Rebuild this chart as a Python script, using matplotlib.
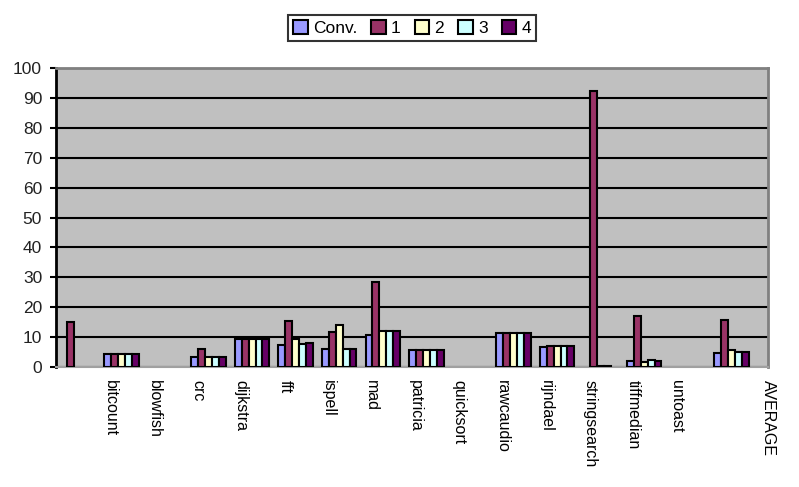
import numpy as np
import matplotlib
matplotlib.use("Agg")
import matplotlib.pyplot as plt

# benchmark names (first group has no label in the original)
benchmarks = ["", "bitcount", "blowfish", "crc", "dijkstra", "fft", "ispell", "mad",
              "patricia", "quicksort", "rawcaudio", "rijndael", "stringsearch",
              "tiffmedian", "untoast", "AVERAGE"]
series_names = ["Conv.", "1", "2", "3", "4"]

conv = [0, 4.3, 0, 3.3, 9.5, 7.4, 6.1, 10.7, 5.8, 0, 11.5, 6.7, 0, 2.0, 0, 4.8]
s1 = [15.0, 4.3, 0, 6.1, 9.5, 15.4, 11.8, 28.4, 5.8, 0, 11.5, 7.0, 92.3, 17.1, 0, 15.7]
s2 = [0, 4.3, 0, 3.3, 9.5, 9.4, 14.0, 12.0, 5.8, 0, 11.5, 7.0, 0.4, 1.8, 0, 5.7]
s3 = [0, 4.3, 0, 3.3, 9.5, 7.7, 6.1, 12.0, 5.8, 0, 11.5, 7.0, 0.4, 2.3, 0, 5.1]
s4 = [0, 4.3, 0, 3.3, 9.5, 8.0, 6.1, 12.0, 5.8, 0, 11.5, 7.0, 0, 2.0, 0, 5.1]

colors = ["#9999FF", "#993366", "#FFFFCC", "#CCFFFF", "#660066"]

plt.rcParams["font.family"] = ["Liberation Sans", "DejaVu Sans"]

fig = plt.figure(figsize=(7.99, 4.87), dpi=100)
ax = fig.add_axes([56 / 799, 1 - 367 / 487, 712 / 799, 299 / 487])
ax.set_facecolor("#C0C0C0")

x = np.arange(len(benchmarks))
bw = 0.158
for k, vals in enumerate([conv, s1, s2, s3, s4]):
    v = np.array(vals, dtype=float)
    v[v == 0] = np.nan  # empty entries are not drawn at all
    ax.bar(x + (k - 2) * bw, v, bw, color=colors[k], edgecolor="black",
           linewidth=1.5, label=series_names[k], zorder=3)

ax.set_xlim(-0.5, len(benchmarks) - 0.5)
ax.set_ylim(0, 100)
ax.set_yticks(range(0, 101, 10))
ax.yaxis.grid(True, color="black", linewidth=1.5, zorder=1)
ax.set_axisbelow(True)
ax.tick_params(axis="y", length=4, width=1.5, labelsize=12.5, pad=6, colors="black")
for lbl in ax.get_yticklabels():
    lbl.set_color("#222222")

# category labels sit a bit left of the groups; AVERAGE drifts to the right
tick_pos = list(x[1:-1] - 0.25) + [x[-1] + 0.84]
ax.set_xticks(tick_pos)
ax.set_xticklabels(benchmarks[1:], rotation=-90, fontsize=11.5, va="top", ha="center")
ax.tick_params(axis="x", length=0, pad=9)

ax.spines["left"].set_color("black")
ax.spines["left"].set_linewidth(2)
for s in ["top", "right"]:
    ax.spines[s].set_color("#808080")
    ax.spines[s].set_linewidth(2)
ax.spines["bottom"].set_color("#A0A0A0")
ax.spines["bottom"].set_linewidth(1.5)

leg = fig.legend(loc="center", bbox_to_anchor=(412 / 799, 1 - 28 / 487), ncol=5,
                 fontsize=12.5, frameon=True, fancybox=False, handlelength=0.85,
                 handleheight=0.85, handletextpad=0.3, columnspacing=0.8,
                 borderpad=0.3, edgecolor="black")
leg.get_frame().set_linewidth(1.5)

fig.savefig("out.png", dpi=100)
